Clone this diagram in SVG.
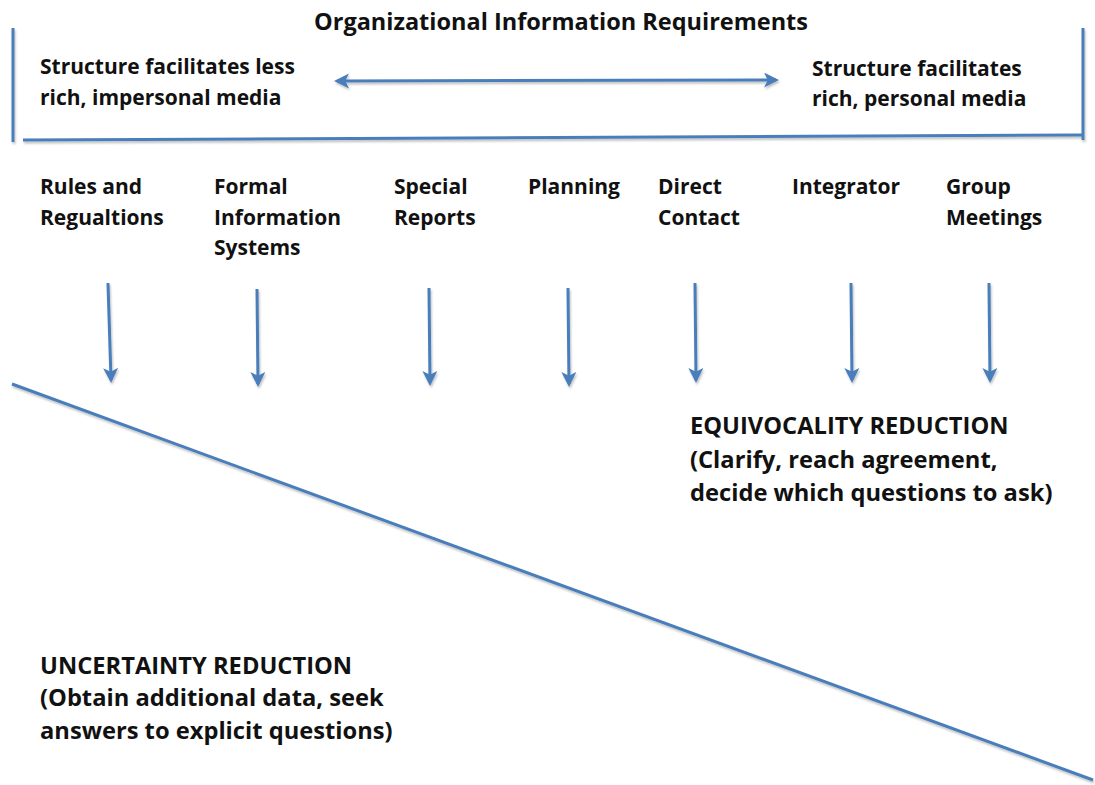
<svg xmlns="http://www.w3.org/2000/svg" width="1095" height="785" viewBox="0 0 1095 785">
  <style>
    .t { font-family: "Open Sans", "Liberation Sans", sans-serif; font-weight: bold; font-size: 21px; fill: #111; }
    .title { font-size: 23.5px; }
    .big { font-size: 23.7px; }
    .ln { stroke: #4a7ebb; stroke-width: 3; fill: none; stroke-linecap: butt; }
  </style>
  <defs>
    <filter id="shadow" x="-5%" y="-5%" width="110%" height="110%">
      <feDropShadow dx="1" dy="2" stdDeviation="1" flood-color="#000" flood-opacity="0.25"/>
    </filter>
    <marker id="head" viewBox="0 0 10 10" refX="8" refY="5" markerWidth="5" markerHeight="5" orient="auto-start-reverse" markerUnits="strokeWidth">
      <path d="M0,0 L10,5 L0,10 L2.5,5 z" fill="#4a7ebb"/>
    </marker>
  </defs>
  <rect width="1095" height="785" fill="#fff"/>

  <!-- frame, media-richness scale and flow arrows -->
  <g id="connectors" filter="url(#shadow)">
    <line class="ln" x1="13" y1="28" x2="13" y2="142"/>
    <line class="ln" x1="1083" y1="28" x2="1083" y2="140"/>
    <line class="ln" x1="23" y1="140" x2="1083" y2="135"/>
    <line class="ln" x1="337" y1="81" x2="776" y2="80" marker-start="url(#head)" marker-end="url(#head)"/>
    <line class="ln" x1="108" y1="283" x2="111" y2="380" marker-end="url(#head)"/>
    <line class="ln" x1="257" y1="289" x2="258" y2="384" marker-end="url(#head)"/>
    <line class="ln" x1="429" y1="288" x2="430" y2="383" marker-end="url(#head)"/>
    <line class="ln" x1="568" y1="288" x2="569" y2="384" marker-end="url(#head)"/>
    <line class="ln" x1="695" y1="283" x2="696" y2="380" marker-end="url(#head)"/>
    <line class="ln" x1="851" y1="283" x2="852" y2="380" marker-end="url(#head)"/>
    <line class="ln" x1="989" y1="283" x2="990" y2="380" marker-end="url(#head)"/>
    <line class="ln" x1="12" y1="384" x2="1093" y2="780"/>
  </g>

  <g id="title"><text class="t title" x="561" y="30" text-anchor="middle">Organizational Information Requirements</text></g>
  <g id="less-rich"><text class="t" x="40" y="74">Structure facilitates less</text><text class="t" x="40" y="105">rich, impersonal media</text></g>
  <g id="rich"><text class="t" x="812" y="76">Structure facilitates</text><text class="t" x="812" y="106">rich, personal media</text></g>

  <g id="rules"><text class="t" x="40" y="194">Rules and</text><text class="t" x="40" y="225">Regualtions</text></g>
  <g id="formal"><text class="t" x="214" y="194">Formal</text><text class="t" x="214" y="225">Information</text><text class="t" x="214" y="255">Systems</text></g>
  <g id="special"><text class="t" x="394" y="194">Special</text><text class="t" x="394" y="225">Reports</text></g>
  <g id="planning"><text class="t" x="528" y="194">Planning</text></g>
  <g id="direct"><text class="t" x="658" y="194">Direct</text><text class="t" x="658" y="225">Contact</text></g>
  <g id="integrator"><text class="t" x="792" y="194">Integrator</text></g>
  <g id="group"><text class="t" x="946" y="194">Group</text><text class="t" x="946" y="225">Meetings</text></g>

  <g id="equivocality"><text class="t big" x="690" y="434">EQUIVOCALITY REDUCTION</text><text class="t big" x="690" y="468">(Clarify, reach agreement,</text><text class="t big" x="690" y="501">decide which questions to ask)</text></g>
  <g id="uncertainty"><text class="t big" x="40" y="674">UNCERTAINTY REDUCTION</text><text class="t big" x="40" y="706">(Obtain additional data, seek</text><text class="t big" x="40" y="739">answers to explicit questions)</text></g>
</svg>
